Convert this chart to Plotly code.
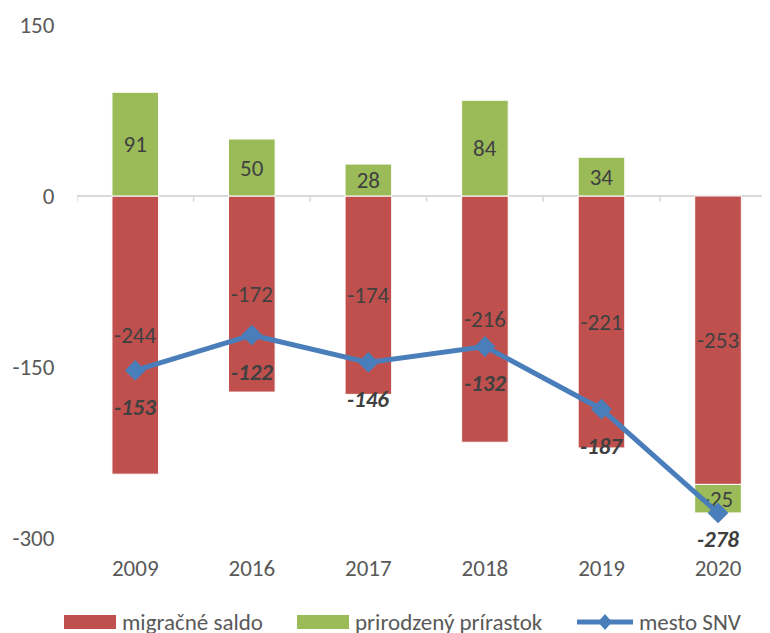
import plotly.graph_objects as go

years = ["2009", "2016", "2017", "2018", "2019", "2020"]
migracne_saldo = [-244, -172, -174, -216, -221, -253]
prirodzeny_prirastok = [91, 50, 28, 84, 34, -25]
mesto_snv = [-153, -122, -146, -132, -187, -278]
y_ticks = [-300, -150, 0, 150]
y_tick_text = ["-300", "-150", "0", "150"]
series_names = ["migračné saldo", "prirodzený prírastok", "mesto SNV"]

FONT = "Calibri, Carlito, Lato, sans-serif"
FS = 23
LABEL_COLOR = "#404040"
TICK_COLOR = "#595959"
RED = "#C0504D"
GREEN = "#9BBB59"
BLUE = "#4A7EBB"

# figure geometry (page body adds an 8px offset)
FIG_W, FIG_H = 762, 625
L, T, B = 69, 17, 95
W = FIG_W - L
H = FIG_H - T - B


def px(x):
    return (x - L) / W


def py(y):
    return (T + H - y) / H


n = len(years)
idx = list(range(n))

fig = go.Figure()
fig.add_trace(go.Bar(
    x=idx, y=migracne_saldo, name=series_names[0], showlegend=False,
    marker=dict(color=RED, line=dict(color="white", width=1)),
    width=0.4, text=[str(v) for v in migracne_saldo], texttemplate="%{text}",
    textposition="inside", insidetextanchor="middle", textangle=0,
    constraintext="none",
    textfont=dict(family=FONT, size=FS, color=LABEL_COLOR),
))
fig.add_trace(go.Bar(
    x=idx, y=prirodzeny_prirastok, name=series_names[1], showlegend=False,
    marker=dict(color=GREEN, line=dict(color="white", width=1)),
    width=0.4, text=[str(v) for v in prirodzeny_prirastok], texttemplate="%{text}",
    textposition="inside", insidetextanchor="middle", textangle=0,
    constraintext="none",
    textfont=dict(family=FONT, size=FS, color=LABEL_COLOR),
))
fig.add_trace(go.Scatter(
    x=idx, y=mesto_snv, name=series_names[2], mode="lines+markers",
    showlegend=False,
    line=dict(color=BLUE, width=5),
    marker=dict(symbol="diamond", size=16, color=BLUE),
))

for i, v in zip(idx, mesto_snv):
    shift = -26 if i == n - 1 else -37
    fig.add_annotation(
        x=i, y=v, text=f"<b><i>{v}</i></b>", showarrow=False,
        yshift=shift, font=dict(family=FONT, size=FS, color=LABEL_COLOR),
    )

# category tick marks on the zero line
for i in range(n + 1):
    fig.add_shape(type="line", xref="x", yref="y",
                  x0=i - 0.5, x1=i - 0.5, y0=0, y1=-5,
                  line=dict(color="#D9D9D9", width=1.5))

# legend (drawn manually to match the wide swatches)
LEG_Y = 614
for x0, color, name in [(56, RED, series_names[0]), (289, GREEN, series_names[1])]:
    fig.add_shape(type="rect", xref="paper", yref="paper",
                  x0=px(x0), x1=px(x0 + 52), y0=py(LEG_Y + 7), y1=py(LEG_Y - 7),
                  line=dict(width=0), fillcolor=color)
    fig.add_annotation(xref="paper", yref="paper", x=px(x0 + 56), y=py(LEG_Y),
                       xanchor="left", yanchor="middle", showarrow=False,
                       text=name, font=dict(family=FONT, size=FS, color=TICK_COLOR))
fig.add_shape(type="line", xref="paper", yref="paper",
              x0=px(569), x1=px(625), y0=py(LEG_Y), y1=py(LEG_Y),
              line=dict(color=BLUE, width=5))
cx, cy, hw, hh = 597, LEG_Y, 7, 8
fig.add_shape(type="path", xref="paper", yref="paper",
              path=(f"M{px(cx - hw)},{py(cy)} L{px(cx)},{py(cy - hh)} "
                    f"L{px(cx + hw)},{py(cy)} L{px(cx)},{py(cy + hh)} Z"),
              line=dict(width=0), fillcolor=BLUE)
fig.add_annotation(xref="paper", yref="paper", x=px(629), y=py(LEG_Y),
                   xanchor="left", yanchor="middle", showarrow=False,
                   text=series_names[2], font=dict(family=FONT, size=FS, color=TICK_COLOR))

fig.update_layout(
    width=FIG_W, height=FIG_H,
    margin=dict(l=L, r=0, t=T, b=B, autoexpand=False),
    barmode="relative",
    plot_bgcolor="white", paper_bgcolor="white",
    font=dict(family=FONT, size=FS, color=TICK_COLOR),
    showlegend=False,
    xaxis=dict(type="linear", range=[-0.5, n - 0.554], showline=False, showgrid=False,
               tickvals=idx, ticktext=years, automargin=False,
               ticks="outside", ticklen=9, tickcolor="rgba(0,0,0,0)",
               tickfont=dict(family=FONT, size=FS, color=TICK_COLOR)),
    yaxis=dict(range=[-300, 150], tickvals=y_ticks, ticktext=y_tick_text,
               showgrid=False, automargin=False,
               showline=False, zeroline=True, zerolinecolor="#D9D9D9",
               zerolinewidth=1.5, ticks="outside", ticklen=17,
               tickcolor="rgba(0,0,0,0)",
               tickfont=dict(family=FONT, size=FS, color=TICK_COLOR)),
)

fig.write_html("out.html")
